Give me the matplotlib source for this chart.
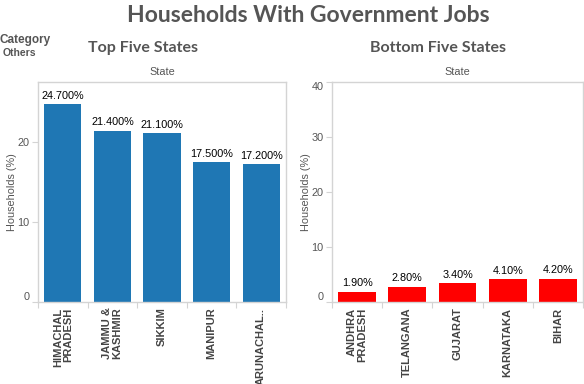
import matplotlib
matplotlib.use("Agg")
import matplotlib.pyplot as plt
from matplotlib.ticker import FixedLocator

top_states = ["HIMACHAL\nPRADESH", "JAMMU &\nKASHMIR", "SIKKIM", "MANIPUR", "ARUNACHAL.."]
top_values = [24.7, 21.4, 21.1, 17.5, 17.2]
top_labels = ["24.700%", "21.400%", "21.100%", "17.500%", "17.200%"]

bottom_states = ["ANDHRA\nPRADESH", "TELANGANA", "GUJARAT", "KARNATAKA", "BIHAR"]
bottom_values = [1.9, 2.8, 3.4, 4.1, 4.2]
bottom_labels = ["1.90%", "2.80%", "3.40%", "4.10%", "4.20%"]

top_yticks = [0, 10, 20]
bottom_yticks = [0, 10, 20, 30, 40]

GRAY = "#555555"
BORDER = "#d4d4d4"
ARIAL = ["Liberation Sans", "DejaVu Sans"]
HEAD = ["Lato", "DejaVu Sans"]

fig = plt.figure(figsize=(5.84, 3.84), dpi=100)

def panel(rect, cats, vals, labels, color, ymax, yticks):
    ax = fig.add_axes(rect)
    x = list(range(len(cats)))
    ax.bar(x, vals, width=0.75, color=color, zorder=2)
    for xi, v, lab in zip(x, vals, labels):
        ax.annotate(lab, (xi, v), xytext=(0, 2.5), textcoords="offset points",
                    ha="center", va="bottom", fontsize=7.8, color="black",
                    family=ARIAL)
    ax.set_xlim(-0.5, len(cats) - 0.5)
    ax.set_ylim(0, ymax)
    ax.set_yticks(yticks)
    ax.tick_params(axis="y", length=4, width=0.8, color=BORDER, labelsize=7.8,
                   labelcolor=GRAY, pad=2)
    for lbl in ax.get_yticklabels():
        lbl.set_family(ARIAL)
    ylabs = ax.get_yticklabels()
    ylabs[0].set_va("bottom")
    if yticks[-1] == ymax:
        ylabs[-1].set_va("top")
    # category separators
    ax.xaxis.set_major_locator(FixedLocator([i - 0.5 for i in range(len(cats) + 1)]))
    ax.tick_params(axis="x", which="major", length=4, width=0.8, color=BORDER,
                   labelbottom=False)
    ax.xaxis.set_minor_locator(FixedLocator(x))
    ax.set_xticklabels(cats, minor=True)
    ax.tick_params(axis="x", which="minor", length=0, pad=4)
    for lbl in ax.get_xticklabels(minor=True):
        lbl.set_rotation(90)
        lbl.set_va("top")
        lbl.set_ha("center")
        lbl.set_multialignment("right")
        lbl.set_fontsize(8)
        lbl.set_fontweight("bold")
        lbl.set_family(ARIAL)
        lbl.set_color("#444444")
        lbl.set_linespacing(1.0)
    for s in ax.spines.values():
        s.set_color(BORDER)
        s.set_linewidth(1.0)
    ax.set_ylabel("Households (%)", fontsize=7.8, color=GRAY, labelpad=0.5,
                  family=ARIAL)
    ax.set_title("State", fontsize=7.8, color=GRAY, pad=5, family=ARIAL)
    return ax

ax1 = panel([38/584, 1 - 302/384, 248/584, 220/384], top_states, top_values, top_labels,
            "#1f77b4", 27.5, top_yticks)
ax2 = panel([332/584, 1 - 302/384, 251/584, 220/384], bottom_states, bottom_values,
            bottom_labels, "#ff0000", 40, bottom_yticks)

fig.text(308/584, 1 - 16/384, "Households With Government Jobs", ha="center", va="center",
         fontsize=16.5, fontweight="bold", color=GRAY, family=HEAD)
fig.text(143/584, 1 - 48/384, "Top Five States", ha="center", va="center",
         fontsize=11.5, fontweight="bold", color=GRAY, family=HEAD)
fig.text(438/584, 1 - 48/384, "Bottom Five States", ha="center", va="center",
         fontsize=11.5, fontweight="bold", color=GRAY, family=HEAD)
fig.text(0/584, 1 - 40/384, "Category", ha="left", va="center",
         fontsize=8.5, fontweight="bold", color=GRAY, family=ARIAL)
fig.text(3/584, 1 - 53/384, "Others", ha="left", va="center",
         fontsize=7.5, fontweight="bold", color=GRAY, family=ARIAL)

fig.savefig("out.png", dpi=100)
